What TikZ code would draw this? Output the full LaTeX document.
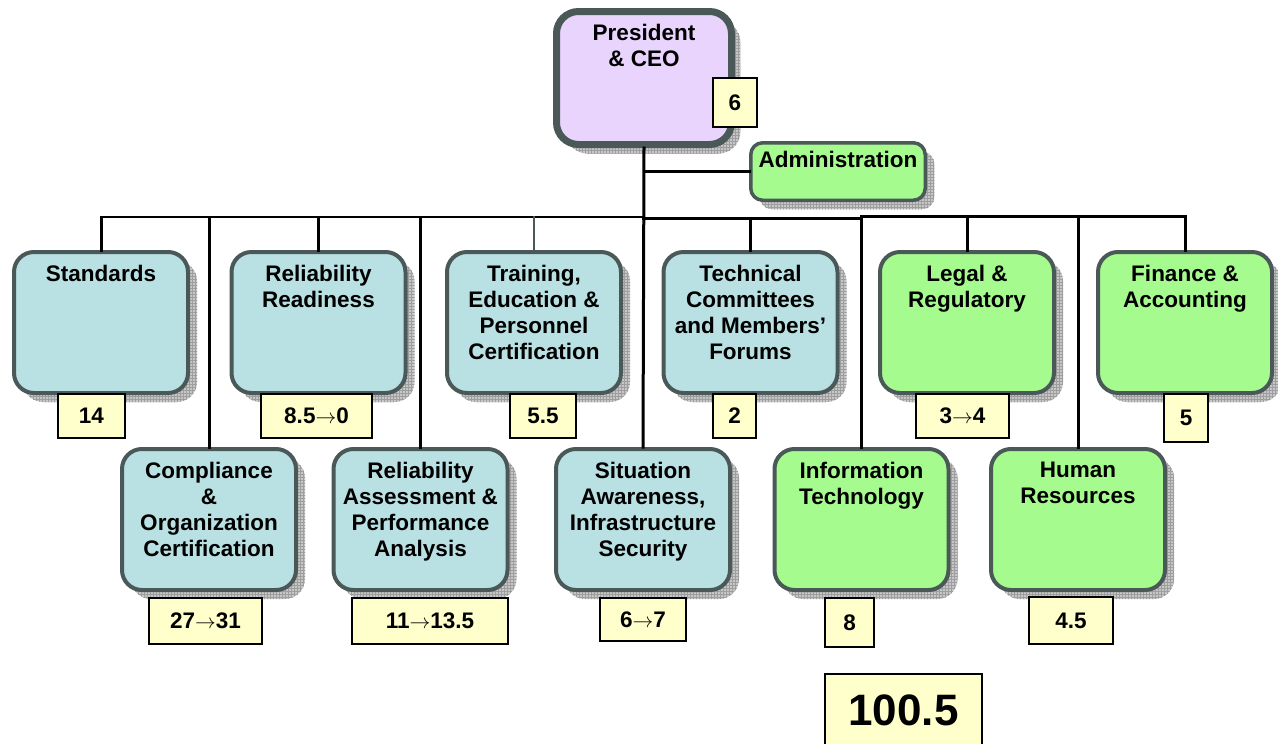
\documentclass[tikz,border=0pt]{standalone}
\usepackage{fontspec}
\setmainfont{Liberation Sans}
\usetikzlibrary{shadows,patterns}
\definecolor{bord}{HTML}{4A5858}
\definecolor{cblue}{HTML}{B9E0E2}
\definecolor{cgreen}{HTML}{A6FB8F}
\definecolor{clav}{HTML}{E8D4FC}
\definecolor{cyellow}{HTML}{FFFFCC}
\newcommand{\toarr}{\ensuremath{{\rightarrow}}}
\tikzset{
  shd/.style={general shadow={shadow xshift=9pt,shadow yshift=-9pt,fill=black!22},
              general shadow={shadow xshift=9pt,shadow yshift=-9pt,pattern=grid,pattern color=black!38}},
  unit/.style={shd, draw=bord, line width=4pt, rounded corners=20pt,
               minimum width=174pt, minimum height=141pt, inner sep=0pt},
  blueunit/.style={unit, fill=cblue},
  greenunit/.style={unit, fill=cgreen},
  lbl/.style={font=\bfseries\fontsize{22.5}{26}\selectfont, align=center, inner sep=0pt, anchor=north},
  num/.style={draw=black, line width=1.8pt, fill=cyellow, inner sep=0pt,
              font=\bfseries\fontsize{22.5}{26}\selectfont},
  conn/.style={line width=3pt, draw=black, line cap=rect},
}
\begin{document}
\begin{tikzpicture}[x=1pt,y=-1pt]
\useasboundingbox (0,0) rectangle (1278,744);

% president and administration
\node[shd, draw=bord, line width=7pt, rounded corners=22pt, fill=clav,
      minimum width=175pt, minimum height=133pt, inner sep=0pt] (pres) at (644,78) {};
\node[lbl] (tpres) at ([yshift=-16pt]pres.north) {President\\\& CEO};
\node[num, minimum width=44pt, minimum height=49pt] (npres) at (735,102.5) {6};

\node[shd, draw=bord, line width=3.5pt, rounded corners=12pt, fill=cgreen,
      minimum width=174.5pt, minimum height=57.5pt, inner sep=0pt] (adm) at (838,171.5) {};
\node[lbl] (tadm) at ([yshift=-10pt]adm.north) {Administration};

% top row
\node[blueunit] (std) at (101,322.5) {};
\node[blueunit] (rr) at (318.5,322.5) {};
\node[blueunit] (trn) at (534,322.5) {};
\node[blueunit] (tech) at (750.5,322.5) {};
\node[greenunit] (legal) at (967,322.5) {};
\node[greenunit] (fin) at (1185,322.5) {};

\node[lbl] (tstd) at ([yshift=-15pt]std.north) {Standards};
\node[lbl] (trr) at ([yshift=-15pt]rr.north) {Reliability\\Readiness};
\node[lbl] (ttrn) at ([yshift=-15pt]trn.north) {Training,\\Education \&\\Personnel\\Certification};
\node[lbl] (ttech) at ([yshift=-15pt]tech.north) {Technical\\Committees\\and Members’\\Forums};
\node[lbl] (tlegal) at ([yshift=-15pt]legal.north) {Legal \&\\Regulatory};
\node[lbl] (tfin) at ([yshift=-15pt]fin.north) {Finance \&\\Accounting};

\node[num, minimum width=67pt, minimum height=44pt] (n14) at (91.5,416) {14};
\node[num, minimum width=111pt, minimum height=44pt] (n85) at (316.5,416) {8.5\toarr0};
\node[num, minimum width=66pt, minimum height=44pt] (n55) at (543,416) {5.5};
\node[num, minimum width=43pt, minimum height=44pt] (n2) at (734.5,416) {2};
\node[num, minimum width=93pt, minimum height=44pt] (n34) at (962.5,416) {3\toarr4};
\node[num, minimum width=44pt, minimum height=48pt] (n5) at (1186,418) {5};

% bottom row
\node[blueunit] (comp) at (209,519.5) {};
\node[blueunit] (ra) at (420.5,519.5) {};
\node[blueunit] (sit) at (643,519.5) {};
\node[greenunit] (it) at (861.5,519.5) {};
\node[greenunit] (hr) at (1078,519.5) {};

\node[lbl] (tcomp) at ([yshift=-15pt]comp.north) {Compliance\\\&\\Organization\\Certification};
\node[lbl] (tra) at ([yshift=-15pt]ra.north) {Reliability\\Assessment \&\\Performance\\Analysis};
\node[lbl] (tsit) at ([yshift=-15pt]sit.north) {Situation\\Awareness,\\Infrastructure\\Security};
\node[lbl] (tit) at ([yshift=-15pt]it.north) {Information\\Technology};
\node[lbl] (thr) at ([yshift=-15pt]hr.north) {Human\\Resources};

\node[num, minimum width=113pt, minimum height=46pt] (n2731) at (205.5,621) {27\toarr31};
\node[num, minimum width=156pt, minimum height=46pt] (n1113) at (430,621) {11\toarr13.5};
\node[num, minimum width=86pt, minimum height=43pt] (n67) at (643,619.5) {6\toarr7};
\node[num, minimum width=49pt, minimum height=49pt] (n8) at (849.5,622.5) {8};
\node[num, minimum width=84pt, minimum height=47pt] (n45) at (1071,620.5) {4.5};

\node[num, minimum width=157pt, minimum height=72pt, font=\bfseries\fontsize{44}{50}\selectfont] (total) at (903.5,710) {100.5};

% connectors
\coordinate (busL) at (0,217);
\coordinate (busM) at (0,218.5);
\coordinate (busR) at (0,216.5);
\draw[conn, line width=2.5pt] (std.north |- busL) -- (pres.south |- busL);
\draw[conn, line width=3.5pt] (pres.south |- busM) -- (it.north |- busM);
\draw[conn] (it.north |- busR) -- (fin.north |- busR);

\draw[conn] (pres.south) -- (sit.north);
\draw[conn] (pres.south |- adm.west) -- (adm.west);

\draw[conn] (std.north |- busL) -- (std.north);
\draw[conn] (comp.north |- busL) -- (comp.north);
\draw[conn] (rr.north |- busL) -- (rr.north);
\draw[conn] (ra.north |- busL) -- (ra.north);
\draw[conn, draw=bord, line width=2pt] (trn.north |- busL) -- (trn.north);
\draw[conn] (tech.north |- busM) -- (tech.north);
\draw[conn] (it.north |- busR) -- (it.north);
\draw[conn] (legal.north |- busR) -- (legal.north);
\draw[conn] (hr.north |- busR) -- (hr.north);
\draw[conn] (fin.north |- busR) -- (fin.north);
\end{tikzpicture}
\end{document}
